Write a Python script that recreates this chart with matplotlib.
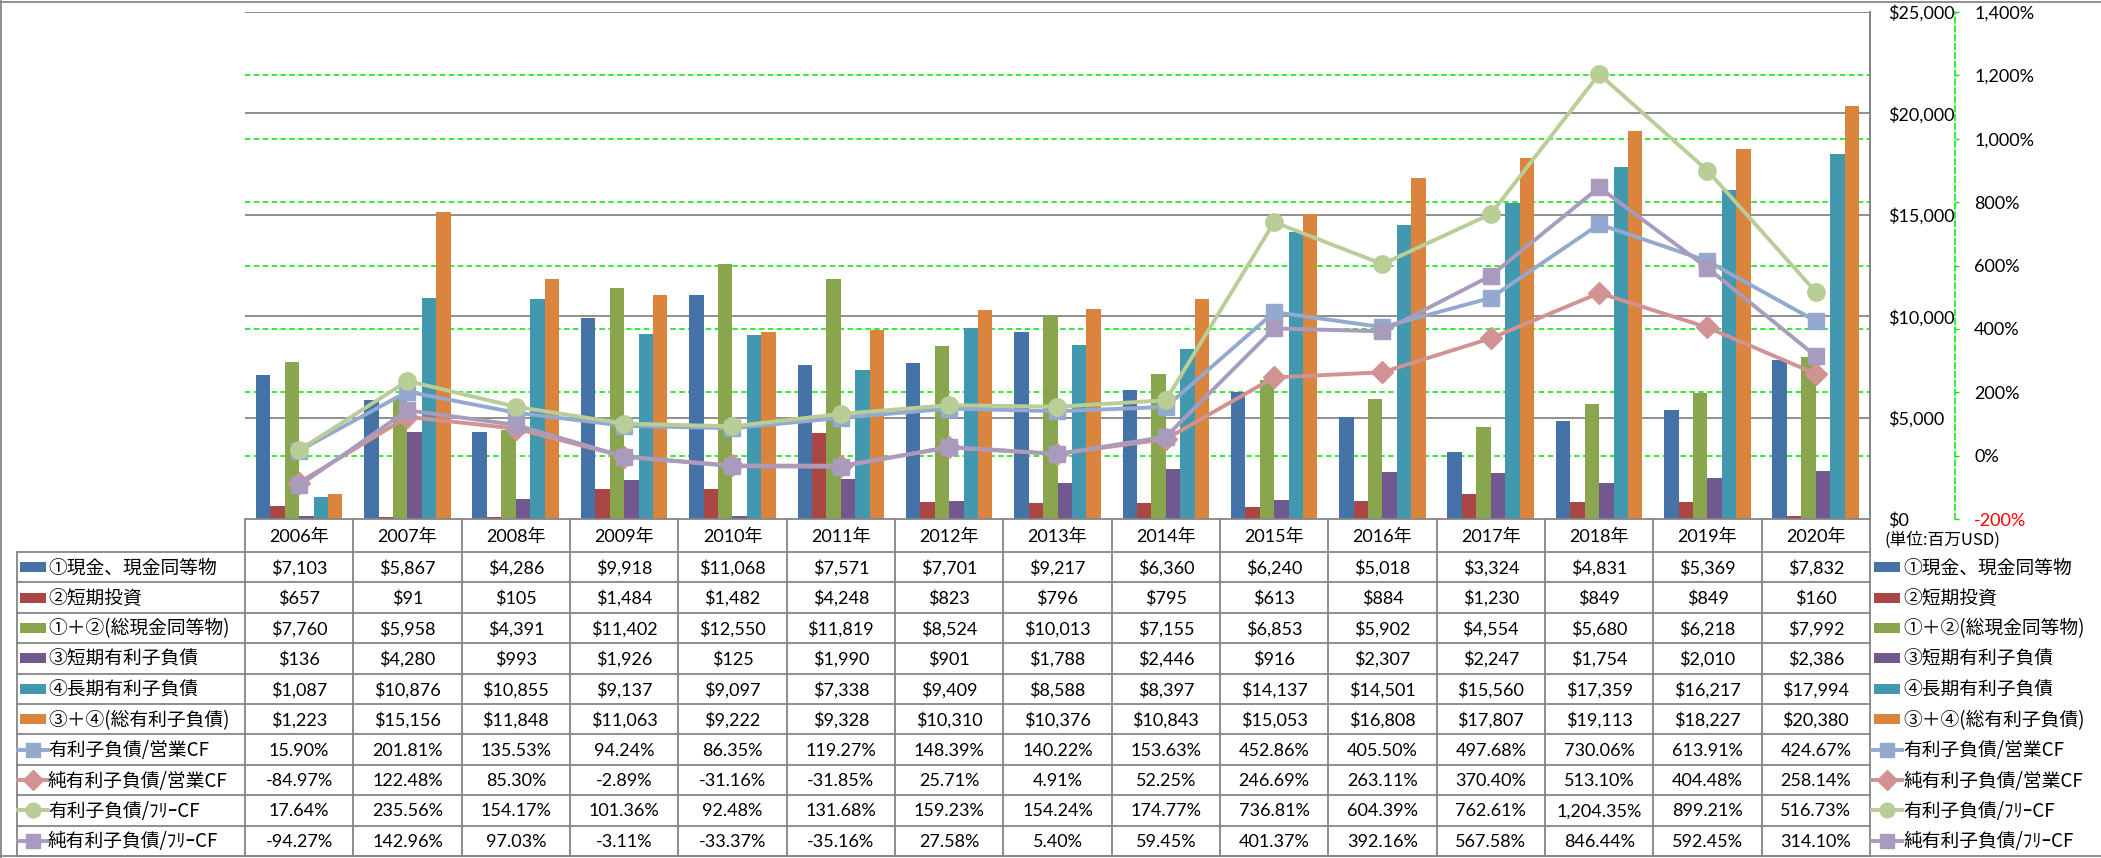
import numpy as np
import matplotlib
matplotlib.use("Agg")
import matplotlib.pyplot as plt
from matplotlib.lines import Line2D
from matplotlib.patches import Rectangle

# ---------------- data ----------------
years = ["2006年", "2007年", "2008年", "2009年", "2010年", "2011年", "2012年", "2013年",
         "2014年", "2015年", "2016年", "2017年", "2018年", "2019年", "2020年"]

bar_labels = ["①現金、現金同等物", "②短期投資", "①＋②(総現金同等物)",
              "③短期有利子負債", "④長期有利子負債", "③＋④(総有利子負債)"]
cash = [7103, 5867, 4286, 9918, 11068, 7571, 7701, 9217, 6360, 6240, 5018, 3324, 4831, 5369, 7832]
short_inv = [657, 91, 105, 1484, 1482, 4248, 823, 796, 795, 613, 884, 1230, 849, 849, 160]
total_cash = [7760, 5958, 4391, 11402, 12550, 11819, 8524, 10013, 7155, 6853, 5902, 4554, 5680, 6218, 7992]
short_debt = [136, 4280, 993, 1926, 125, 1990, 901, 1788, 2446, 916, 2307, 2247, 1754, 2010, 2386]
long_debt = [1087, 10876, 10855, 9137, 9097, 7338, 9409, 8588, 8397, 14137, 14501, 15560, 17359, 16217, 17994]
total_debt = [1223, 15156, 11848, 11063, 9222, 9328, 10310, 10376, 10843, 15053, 16808, 17807, 19113, 18227, 20380]
bar_series = [cash, short_inv, total_cash, short_debt, long_debt, total_debt]

line_labels = ["有利子負債/営業CF", "純有利子負債/営業CF", "有利子負債/ﾌﾘｰCF", "純有利子負債/ﾌﾘｰCF"]
debt_ocf = [15.90, 201.81, 135.53, 94.24, 86.35, 119.27, 148.39, 140.22, 153.63, 452.86, 405.50, 497.68, 730.06, 613.91, 424.67]
net_debt_ocf = [-84.97, 122.48, 85.30, -2.89, -31.16, -31.85, 25.71, 4.91, 52.25, 246.69, 263.11, 370.40, 513.10, 404.48, 258.14]
debt_fcf = [17.64, 235.56, 154.17, 101.36, 92.48, 131.68, 159.23, 154.24, 174.77, 736.81, 604.39, 762.61, 1204.35, 899.21, 516.73]
net_debt_fcf = [-94.27, 142.96, 97.03, -3.11, -33.37, -35.16, 27.58, 5.40, 59.45, 401.37, 392.16, 567.58, 846.44, 592.45, 314.10]
line_series = [debt_ocf, net_debt_ocf, debt_fcf, net_debt_fcf]

usd_ticks = [0, 5000, 10000, 15000, 20000, 25000]
pct_ticks = [-200, 0, 200, 400, 600, 800, 1000, 1200, 1400]
unit_label = "(単位:百万USD)"

# ---------------- style ----------------
bar_colors = ["#4572A7", "#AA4643", "#89A54E", "#71588F", "#4198AF", "#DB843D"]
line_colors = ["#93A9CF", "#D19392", "#B9CD96", "#A99BBD"]
line_markers = ["s", "D", "o", "s"]
line_ms = [11.5, 11.5, 12.5, 11.5]
GRID_GRAY = "#868686"
GREEN = "#00E600"
DASH = (0, (3.6, 2.2))

NUM_FONT = ["Lato", "Noto Sans CJK JP", "DejaVu Sans"]
JP_FONT = ["Noto Sans CJK JP", "DejaVu Sans"]
plt.rcParams["font.family"] = NUM_FONT

W, H = 2101, 858
fig = plt.figure(figsize=(W / 100, H / 100), dpi=100)
fig.patch.set_facecolor("white")

PL, PR, PT, PB = 245, 1870, 12, 519
ax = fig.add_axes([PL / W, 1 - PB / H, (PR - PL) / W, (PB - PT) / H])
n = len(years)
x = np.arange(n)
ax.set_xlim(-0.5, n - 0.5)
ax.set_ylim(0, 25000)

# gridlines (behind bars)
for v in usd_ticks[1:]:
    ax.axhline(v, color=GRID_GRAY, lw=1.3, zorder=0.5)
for p in pct_ticks[1:-1]:
    ax.axhline((p - pct_ticks[0]) * 25000 / (pct_ticks[-1] - pct_ticks[0]),
               color=GREEN, lw=1.1, ls=DASH, zorder=0.6)

bw = 1 / 7.5
for i, (vals, c) in enumerate(zip(bar_series, bar_colors)):
    ax.bar(x + (i - 2.5) * bw, vals, width=bw, color=c, zorder=2, linewidth=0)

ax2 = ax.twinx()

ax.set_xticks([])
for s in ["left", "top"]:
    ax.spines[s].set_visible(False)
ax.spines["right"].set_color(GRID_GRAY)
ax.spines["right"].set_linewidth(1.3)
ax.spines["bottom"].set_color(GRID_GRAY)
ax.spines["bottom"].set_linewidth(1.3)
ax.yaxis.set_ticks_position("right")
ax.yaxis.set_label_position("right")
ax.set_yticks(usd_ticks)
ax.set_yticklabels([f"${v:,}" for v in usd_ticks])
ax.tick_params(axis="y", which="both", left=False, labelleft=False, right=True,
               labelright=True, length=0, pad=13, labelsize=13)

ax2.set_ylim(pct_ticks[0], pct_ticks[-1])
for i, (vals, c, m, ms) in enumerate(zip(line_series, line_colors, line_markers, line_ms)):
    ax2.plot(x, vals, color=c, lw=2.8, marker=m, ms=ms, mfc=c, mec=c, zorder=3 + i,
             solid_capstyle="round")
for s in ["left", "top", "bottom"]:
    ax2.spines[s].set_visible(False)
ax2.spines["right"].set_position(("outward", 61))
ax2.spines["right"].set_color(GREEN)
ax2.spines["right"].set_linestyle(DASH)
ax2.spines["right"].set_linewidth(1.1)
ax2.set_yticks(pct_ticks)
ax2.set_yticklabels([f"{p:,}%" for p in pct_ticks])
ax2.tick_params(axis="y", direction="out", length=3, width=1, color=GREEN, pad=11, labelsize=13)
ax2.get_yticklabels()[0].set_color("red")

# ---------------- table overlay (pixel coordinates) ----------------
ov = fig.add_axes([0, 0, 1, 1], zorder=10)
ov.set_xlim(0, W)
ov.set_ylim(H, 0)
ov.axis("off")
ov.patch.set_visible(False)

TT = 552
rh = (856 - TT) / 10
cw = (PR - PL) / n
lc = dict(color=GRID_GRAY, lw=1.3)

ov.plot([1, 1], [1, H], **lc)
ov.plot([1, W], [1.5, 1.5], **lc)
ov.plot([PR, PR], [PT, 856], **lc)
ov.plot([PL, PL], [PB, 856], **lc)
ov.plot([17, 17], [TT, 856], **lc)
for k in range(1, n):
    xx = PL + k * cw
    ov.plot([xx, xx], [PB, 856], **lc)
for r in range(11):
    yy = TT + r * rh
    ov.plot([17, PR], [yy, yy], **lc)
ov.plot([0, W], [856, 856], **lc)

# year header
for k, yl in enumerate(years):
    ov.text(PL + (k + 0.5) * cw, (PB + TT) / 2 + 1, yl, ha="center", va="center",
            fontsize=13, family=NUM_FONT)

def key(xk, yc, r):
    if r < 6:
        ov.add_patch(Rectangle((xk + 2, yc - 5), 26, 10, color=bar_colors[r], lw=0))
    else:
        j = r - 6
        ov.add_line(Line2D([xk, xk + 30], [yc, yc], color=line_colors[j], lw=2.8))
        ov.plot([xk + 15], [yc], marker=line_markers[j], ms=line_ms[j] * 0.85,
                color=line_colors[j], mec=line_colors[j])

all_labels = bar_labels + line_labels
for r in range(10):
    yc = TT + (r + 0.5) * rh
    key(18, yc, r)
    ov.text(48, yc + 1, all_labels[r], ha="left", va="center", fontsize=13.5, family=JP_FONT)
    key(1872, yc, r)
    ov.text(1903, yc + 1, all_labels[r], ha="left", va="center", fontsize=13.5, family=JP_FONT)
    for k in range(n):
        if r < 6:
            s = f"${bar_series[r][k]:,}"
        else:
            s = f"{line_series[r - 6][k]:,.2f}%"
        ov.text(PL + (k + 0.5) * cw, yc + 1, s, ha="center", va="center", fontsize=13,
                family=NUM_FONT)

ov.text(1884, 540, unit_label, ha="left", va="center", fontsize=12, family=JP_FONT)

fig.savefig("out.png", dpi=100, facecolor="white")
